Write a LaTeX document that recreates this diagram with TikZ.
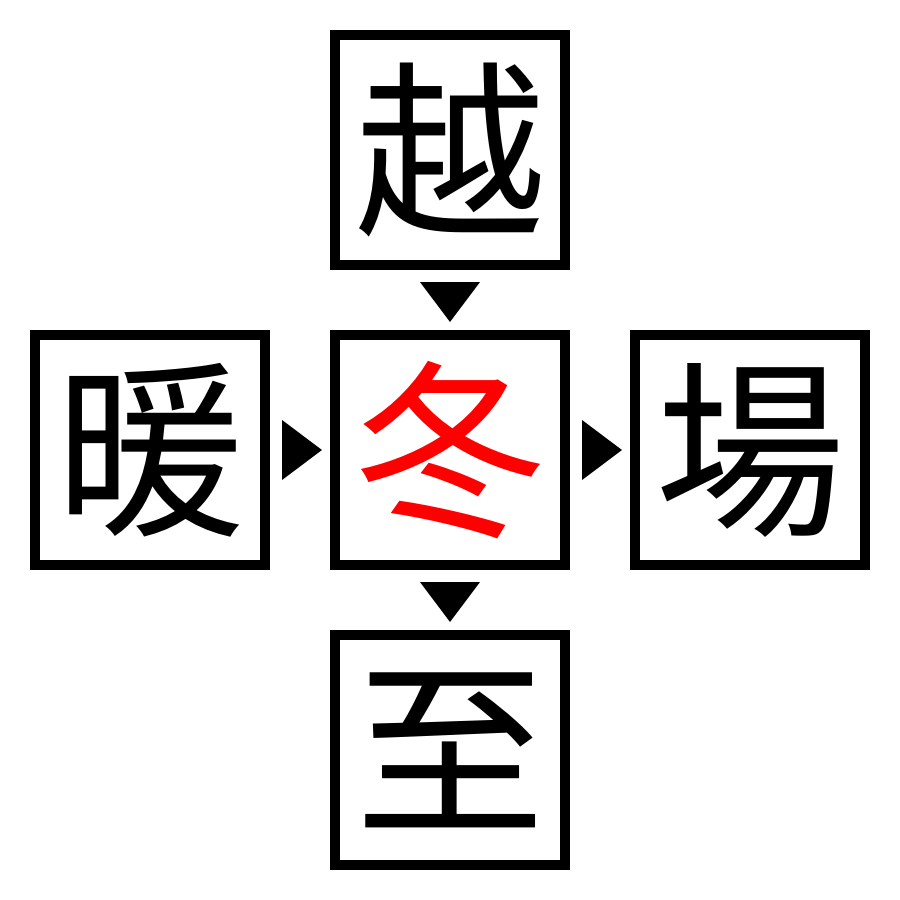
\documentclass[tikz,border=0pt]{standalone}
\usepackage{fontspec}
\newfontfamily\cjk{Noto Sans CJK JP}
\usetikzlibrary{calc}
\begin{document}
\begin{tikzpicture}[x=0.01cm,y=-0.01cm,
  kbox/.style={draw=black,line width=0.1cm,minimum size=2.3cm,inner sep=0pt,outer sep=0pt,
    font=\cjk\fontsize{54}{60}\selectfont},
  tri/.style={fill=black}]
\useasboundingbox (0,0) rectangle (900,900);
\node[kbox] (t) at (450,150) {越};
\node[kbox] (l) at (150,450) {暖};
\node[kbox,text=red] (c) at (450,450) {冬};
\node[kbox] (r) at (750,450) {場};
\node[kbox] (b) at (450,750) {至};
% top -> center
\fill[tri] ($(t.south)+(-30,17)$) -- ($(t.south)+(30,17)$) -- ($(c.north)+(0,-13)$) -- cycle;
% left -> center
\fill[tri] ($(l.east)+(17,-30)$) -- ($(l.east)+(17,30)$) -- ($(c.west)+(-13,0)$) -- cycle;
% center -> right
\fill[tri] ($(c.east)+(17,-30)$) -- ($(c.east)+(17,30)$) -- ($(r.west)+(-13,0)$) -- cycle;
% center -> bottom
\fill[tri] ($(c.south)+(-30,17)$) -- ($(c.south)+(30,17)$) -- ($(b.north)+(0,-13)$) -- cycle;
\end{tikzpicture}
\end{document}
